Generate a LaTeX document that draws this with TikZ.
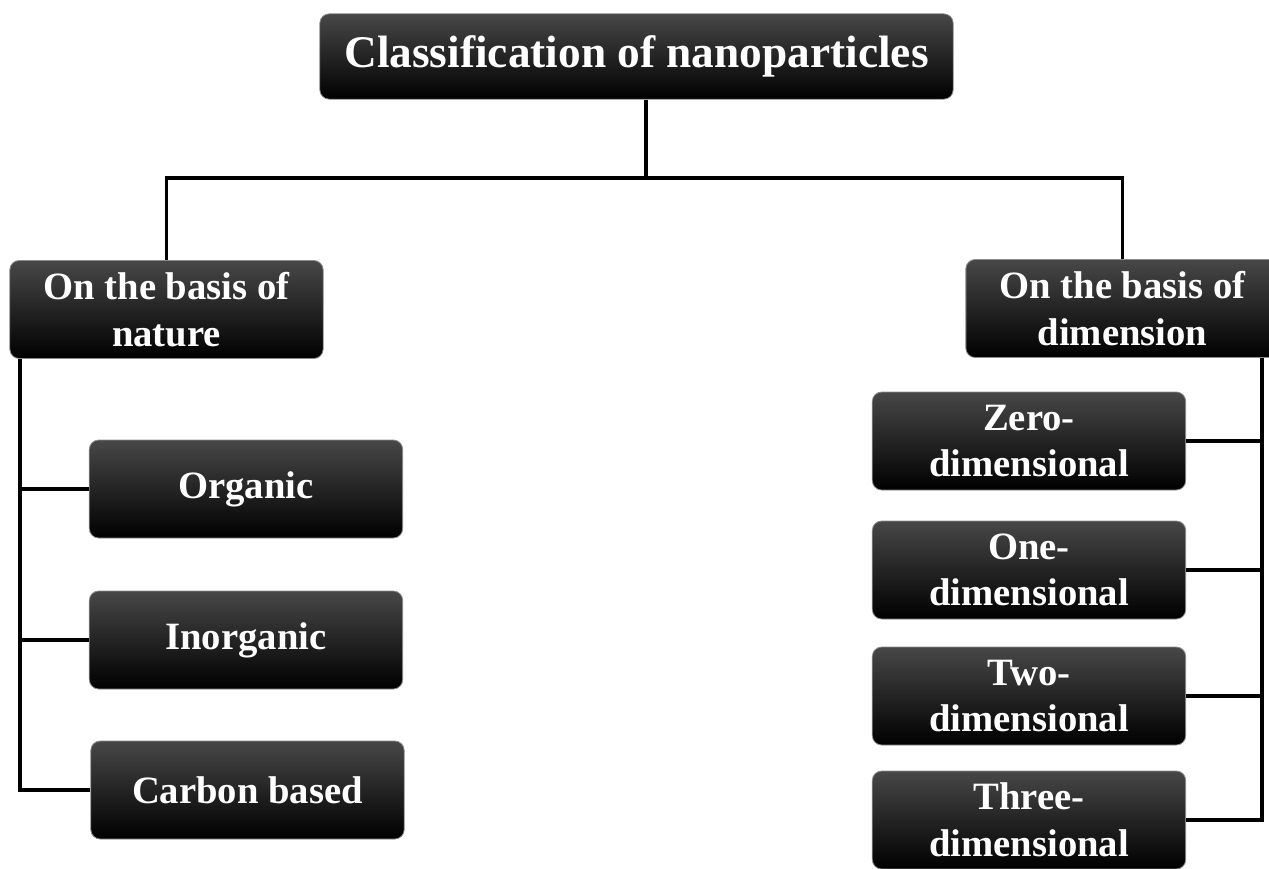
\documentclass[tikz,border=0pt]{standalone}
\usepackage{fontspec}
\setmainfont{Liberation Serif}
\tikzset{
  catbox/.style={rounded corners=7pt, draw=black!45, line width=0.6pt,
    top color=black!72, middle color=black, bottom color=black,
    text=white, align=center, inner sep=0pt,
    font=\bfseries\fontsize{29}{35}\selectfont,
    minimum width=235pt, minimum height=73.5pt},
  titlebox/.style={catbox, font=\bfseries\fontsize{34}{40}\selectfont,
    minimum width=475pt, minimum height=64pt},
  branch/.style={line width=2.6pt}
}
\begin{document}
\begin{tikzpicture}[x=0.75pt,y=-0.75pt]
        \useasboundingbox (0,0) rectangle (1269,868);
        \clip (0,0) rectangle (1269,868);
        \node[titlebox] (title) at (636.5,56.5) {Classification of nanoparticles};
        % the two criteria
        \node[catbox] (nature) at (166.5,309.5) {On the basis of\\nature};
        \node[catbox] (dim) at (1122.5,308.5) {On the basis of\\dimension};
        \node[catbox] (organic) at (246,489) {Organic};
        \node[catbox] (inorganic) at (246,640) {Inorganic};
        \node[catbox] (carbon) at (247.5,790) {Carbon based};
        \node[catbox] (zero) at (1029,441) {Zero-\\dimensional};
        \node[catbox] (one) at (1029,570) {One-\\dimensional};
        \node[catbox] (two) at (1029,696) {Two-\\dimensional};
        \node[catbox] (three) at (1029,820) {Three-\\dimensional};
        \coordinate (split) at (646,178);
        \coordinate (ltop) at (20,0);
        \coordinate (rtop) at (1262,0);
        \draw[branch] (title.south -| split) -- (split);
        \draw[branch] (nature.north) |- (split) -| (dim.north);
        \draw[branch] (nature.south -| ltop) |- (carbon.west);
        \foreach \n in {organic,inorganic}
            \draw[branch] (\n.west -| ltop) -- (\n.west);
        \draw[branch] (dim.south -| rtop) |- (three.east);
        \foreach \n in {zero,one,two}
            \draw[branch] (\n.east) -- (\n.east -| rtop);
    \end{tikzpicture}
\end{document}
